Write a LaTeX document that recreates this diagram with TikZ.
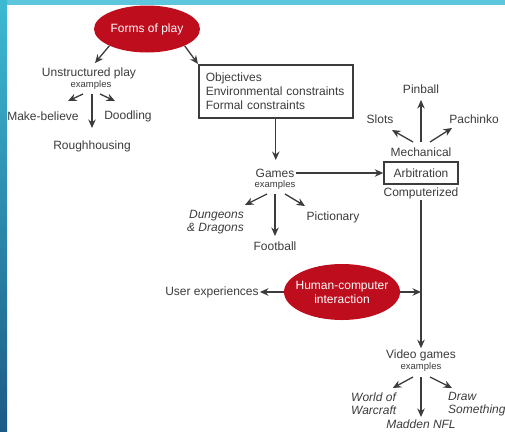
\documentclass[tikz,border=0pt]{standalone}
\usepackage{fontspec}
\setmainfont{Liberation Sans}
\usepackage{xcolor}
\usepackage{tikz}
\usetikzlibrary{calc,arrows.meta,shapes.geometric}
\definecolor{ink}{HTML}{3C3C3C}
\definecolor{playred}{HTML}{BE0E1E}
\definecolor{edgetop}{HTML}{3DBAD3}
\definecolor{edgebot}{HTML}{1C5B86}
\definecolor{edgeline}{HTML}{5EC6DC}
\tikzset{
  lab/.style={text=ink, inner sep=1pt, font=\fontsize{12}{13.5}\selectfont},
  labs/.style={text=ink, inner sep=1pt, font=\fontsize{9.5}{10}\selectfont},
  labi/.style={lab, font=\fontsize{12}{13}\selectfont\itshape},
  play/.style={ellipse, fill=playred, text=white, inner sep=0pt, inner xsep=-12pt,
    align=center, font=\fontsize{12}{14}\selectfont},
  boxx/.style={draw=ink, line width=1.5pt, text=ink, inner sep=0pt,
    font=\fontsize{12}{14}\selectfont},
  arr/.style={draw=ink, line width=1.3pt, -{Stealth[length=8.5pt,width=7.5pt]}},
}

\begin{document}
\begin{tikzpicture}[x=1pt,y=-1pt]
  \useasboundingbox (0,0) rectangle (505,431);
  \fill[white] (0,0) rectangle (505,431);
  \fill[edgeline] (0,0) rectangle (505,5);
  \shade[top color=edgetop,bottom color=edgebot] (0,0) rectangle (7,431);

  % play forms
  \node[play,minimum width=106,minimum height=47] (fop) at (147,29) {Forms of play};
  \node[lab] (unst) at (89,73) {Unstructured play};
  \node[labs] (ex1) at (91,85) {examples};
  \node[lab] (mb) at (43,116) {Make-believe};
  \node[lab] (dood) at (128,116) {Doodling};
  \node[lab] (rough) at (92,146) {Roughhousing};
  \node[boxx,anchor=north west,align=left,minimum width=154,minimum height=53,
    text width=140] (obj) at (198,64) {Objectives\\Environmental constraints\\Formal constraints};

  % games
  \node[lab] (games) at (275,173) {Games};
  \node[labs] (ex2) at (275,185) {examples};
  \node[labi,align=right,anchor=east] (dd) at (245,222) {Dungeons\\\& Dragons};
  \node[lab] (pict) at (333,217) {Pictionary};
  \node[lab] (foot) at (275,246) {Football};

  % arbitration
  \node[boxx,minimum width=74,minimum height=22] (arb) at (421,173) {Arbitration};
  \node[lab] (mech) at (421,152) {Mechanical};
  \node[lab] (comp) at (421,193) {Computerized};
  \node[lab] (pin) at (421,89) {Pinball};
  \node[lab] (slots) at (380,119) {Slots};
  \node[lab] (pach) at (474,119) {Pachinko};

  % hci and video games
  \node[play,minimum width=116,minimum height=56] (hci) at (342,292) {Human-computer\\interaction};
  \node[lab] (ux) at (212,292) {User experiences};
  \node[lab] (vg) at (421,355) {Video games};
  \node[labs] (ex3) at (421,367) {examples};
  \node[labi,align=left,anchor=west] (wow) at (350,404) {World of\\Warcraft};
  \node[labi,align=left,anchor=west] (drsm) at (447,404) {Draw\\Something};
  \node[labi] (mad) at (421,424) {Madden NFL};
  \coordinate (hcij) at (comp.south |- hci.east);

  \draw[arr] (fop.south west) -- ($(unst)+(6,-10)$);
  \draw[arr] (fop.south east) -- (obj.north west);
  \draw[arr] ($(ex1)+(-8,9)$) -- ($(mb)+(25,-15)$);
  \draw[arr] ($(ex1)+(1,9)$) -- ($(rough)+(0,-18)$);
  \draw[arr] ($(ex1)+(9,9)$) -- ($(dood)+(-13,-15)$);

  \draw[arr] (obj.south) -- ($(obj.south |- games)+(0,-13)$);
  \draw[arr] (games.east) -- (arb.west);
  \draw[arr] ($(ex2)+(-8,9)$) -- ($(dd.east)+(0,-17)$);
  \draw[arr] ($(ex2)+(0,9)$) -- ($(foot)+(0,-10)$);
  \draw[arr] ($(ex2)+(10,9)$) -- ($(pict)+(-28,-11)$);

  \draw[arr] ($(mech)+(-8,-10)$) -- ($(slots)+(12,11)$);
  \draw[arr] ($(mech)+(0,-10)$) -- ($(pin)+(0,11)$);
  \draw[arr] ($(mech)+(9,-10)$) -- ($(pach)+(-22,9)$);

  \draw[arr] (comp.south) -- (vg.north);
  \draw[arr] (hci.east) -- (hcij);
  \draw[arr] (hci.west) -- (ux.east);
  \draw[arr] ($(ex3)+(-8,10)$) -- ($(wow)+(19,-16)$);
  \draw[arr] ($(ex3)+(0,10)$) -- ($(mad)+(0,-7)$);
  \draw[arr] ($(ex3)+(9,10)$) -- ($(drsm.west)+(5,-16)$);
\end{tikzpicture}
\end{document}
